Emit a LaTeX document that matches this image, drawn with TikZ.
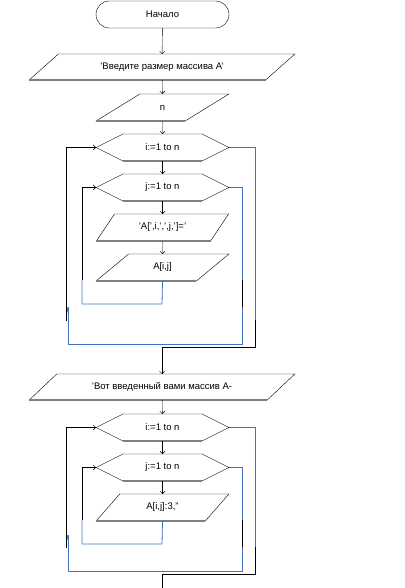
\documentclass[tikz,border=0pt]{standalone}
\usepackage{fontspec}
\setmainfont{Liberation Sans}
\usepackage{tikz}
\usetikzlibrary{arrows.meta,shapes.geometric,shapes.misc}
\definecolor{loopblue}{RGB}{68,114,196}
\definecolor{edgegray}{RGB}{128,128,128}

\begin{document}
\begin{tikzpicture}[x=1pt,y=-1pt,>={Straight Barb[length=2.5pt,width=5pt]},
    font=\fontsize{9.5}{10}\selectfont,
    every node/.style={inner sep=0pt,outer sep=0pt},
    term/.style={rounded rectangle,draw,minimum width=133pt,minimum height=27pt},
    io/.style={trapezium,trapezium left angle=45,trapezium right angle=135,
        trapezium stretches=true,draw,minimum width=133pt,minimum height=27pt},
    iowide/.style={io,trapezium left angle=26,trapezium right angle=154,
        minimum width=266pt,minimum height=26pt},
    loophex/.style={rectangle,minimum width=133pt,minimum height=27pt},
    bluepath/.style={loopblue,line width=0.8pt}]
    \useasboundingbox (0,0) rectangle (404,588);

    % Input part
    \node[term] (start) at (162.5,14.5) {Начало};
    \node[iowide] (askn) at (162,67) {'Введите размер массива A'};
    \node[io] (readn) at (162.5,107.5) {n};
    \node[loophex] (fori) at (162.5,147.5) {i:=1 to n};
    \node[loophex] (forj) at (162.5,187.5) {j:=1 to n};
    \node[io] (askel) at (162.5,227.5) {'A[',i,',',j,']='};
    \node[io] (readel) at (162.5,267.5) {A[i,j]};

    % Output part
    \node[iowide] (showa) at (162,387) {'Вот введенный вами массив A-};
    \node[loophex] (forii) at (162.5,427.5) {i:=1 to n};
    \node[loophex] (forjj) at (162.5,467.5) {j:=1 to n};
    \node[io] (printel) at (162.5,507.5) {A[i,j]:3,''};

    % Hexagon outlines and gray bottom edges
    \foreach \s in {fori,forj,forii,forjj}{
        \draw (\s.west) -- ([xshift=27pt]\s.north west) -- ([xshift=-27pt]\s.north east)
            -- (\s.east) -- ([xshift=-27pt]\s.south east);
        \draw ([xshift=27pt]\s.south west) -- (\s.west);
        \draw[edgegray,line width=1.6pt] ([xshift=27pt]\s.south west) -- ([xshift=-27pt]\s.south east);
    }
    \foreach \s in {askn,readn,askel,readel,showa,printel}
        \draw[edgegray,line width=1.6pt] (\s.bottom left corner) -- (\s.bottom right corner);

    % Main flow
    \draw[->] (start) -- (askn);
    \draw[->] (askn) -- (readn);
    \draw[->] (readn) -- (fori);
    \draw[->] (fori) -- (forj);
    \draw[->] (forj) -- (askel);
    \draw[->] (askel) -- (readel);
    \draw[->] (showa) -- (forii);
    \draw[->] (forii) -- (forjj);
    \draw[->] (forjj) -- (printel);

    % Loop j (input)
    \coordinate (ja) at (162,304);
    \coordinate (jb) at (82,304);
    \coordinate (jc) at (82,280);
    \draw[bluepath] (readel.south) -- (ja) -- (jb) -- (jc);
    \draw[->] (jc) |- (forj.west);

    % Exit j, back to i (input)
    \coordinate (ka) at (242,280);
    \coordinate (kb) at (242,307);
    \coordinate (kc) at (68,307);
    \coordinate (kd) at (66.5,321);
    \draw[bluepath] (forj.east) -| (ka);
    \draw (ka) -- (kb);
    \draw[bluepath] (kb) -- (242,344) -- (68,344) -- (kc);
    \draw (kc) -- (66.5,315);
    \draw[->] (kd) |- (fori.west);

    % Exit i (input)
    \coordinate (la) at (255,320);
    \coordinate (lb) at (255,347);
    \draw[bluepath] (fori.east) -| (la);
    \draw[->] (la) -- (lb) -| (showa.north);

    % Loop j (output)
    \coordinate (ma) at (162,544);
    \coordinate (mb) at (82,544);
    \coordinate (mc) at (82,520);
    \draw[bluepath] (printel.south) -- (ma) -- (mb) -- (mc);
    \draw[->] (mc) |- (forjj.west);

    % Exit j, back to i (output)
    \coordinate (na) at (242,520);
    \coordinate (nb) at (242,547);
    \coordinate (nc) at (68,535);
    \coordinate (nd) at (66.5,548);
    \draw[bluepath] (forjj.east) -| (na);
    \draw (na) -- (nb);
    \draw[bluepath] (nb) -- (242,571) -- (68,571) -- (nc);
    \draw (nc) -- (66.5,542);
    \draw[->] (nd) |- (forii.west);

    % Exit i (output)
    \coordinate (oa) at (255,547);
    \coordinate (ob) at (255,574);
    \coordinate (oc) at (162,590);
    \draw[bluepath] (forii.east) -| (oa);
    \draw (oa) -- (ob) -| (oc);
\end{tikzpicture}
\end{document}
